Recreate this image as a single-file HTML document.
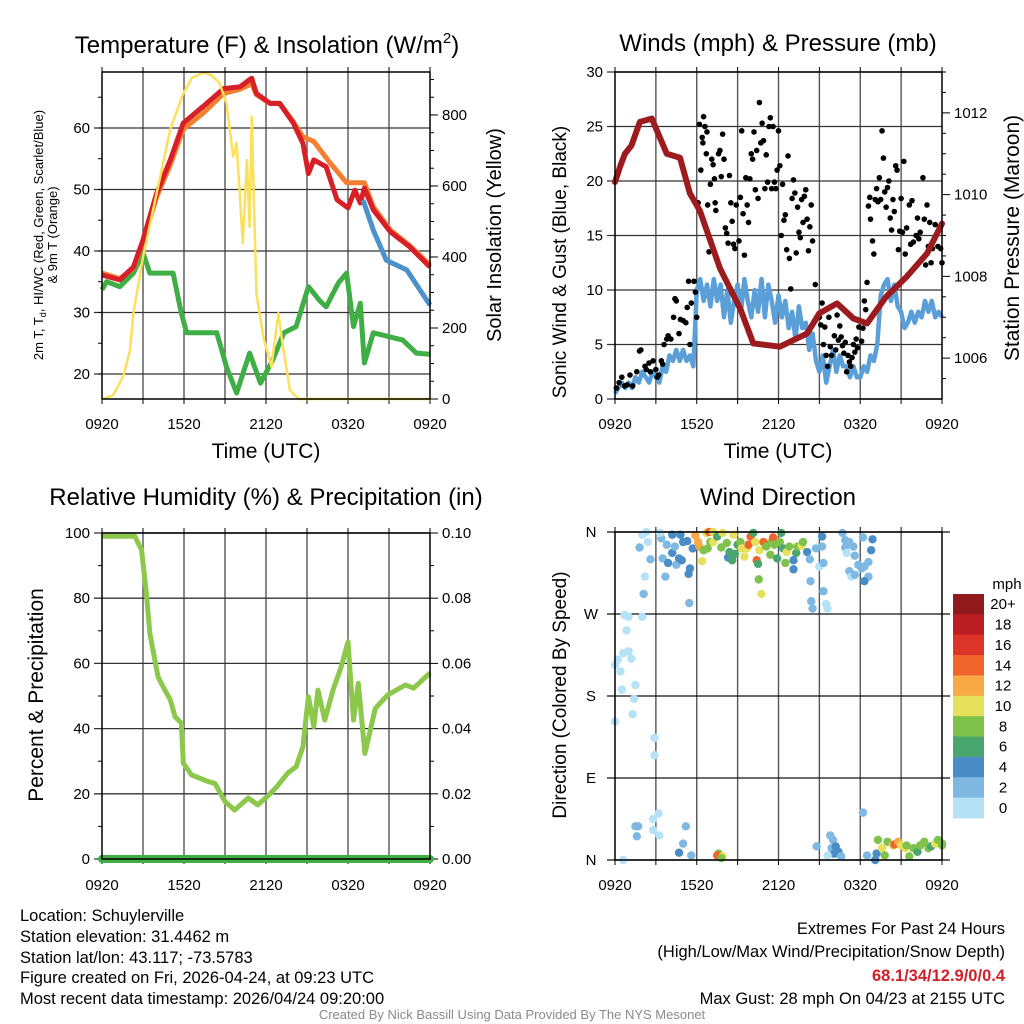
<!DOCTYPE html>
<html><head><meta charset="utf-8"><title>Schuylerville Meteogram</title>
<style>
html,body{margin:0;padding:0;background:#fff;}
svg{display:block;font-family:"Liberation Sans",Arial,sans-serif;}
</style></head>
<body>
<svg id="chart" width="1024" height="1024" viewBox="0 0 1024 1024" xmlns="http://www.w3.org/2000/svg">
<rect x="0" y="0" width="1024" height="1024" fill="#fff"/>
<text x="267" y="53" text-anchor="middle" font-size="24">Temperature (F) &amp; Insolation (W/m<tspan dy="-10" font-size="15">2</tspan><tspan dy="10">)</tspan></text>
<text x="778" y="51" text-anchor="middle" font-size="24">Winds (mph) &amp; Pressure (mb)</text>
<text x="266" y="505" text-anchor="middle" font-size="24">Relative Humidity (%) &amp; Precipitation (in)</text>
<text x="778" y="505" text-anchor="middle" font-size="24">Wind Direction</text>
<text transform="translate(43,235) rotate(-90)" text-anchor="middle" font-size="13">2m T, T<tspan dy="3" font-size="9">d</tspan><tspan dy="-3">, HI/WC (Red, Green, Scarlet/Blue)</tspan></text>
<text transform="translate(57,235) rotate(-90)" text-anchor="middle" font-size="13">&amp; 9m T (Orange)</text>
<text transform="translate(501,235) rotate(-90)" text-anchor="middle" font-size="20">Solar Insolation (Yellow)</text>
<text transform="translate(566,262) rotate(-90)" text-anchor="middle" font-size="19">Sonic Wind &amp; Gust (Blue, Black)</text>
<text transform="translate(1019,238) rotate(-90)" text-anchor="middle" font-size="21">Station Pressure (Maroon)</text>
<text transform="translate(43,695) rotate(-90)" text-anchor="middle" font-size="21">Percent &amp; Precipitation</text>
<text transform="translate(566,695) rotate(-90)" text-anchor="middle" font-size="19">Direction (Colored By Speed)</text>
<text x="266" y="458" text-anchor="middle" font-size="21">Time (UTC)</text>
<text x="778" y="458" text-anchor="middle" font-size="21">Time (UTC)</text>
<g font-size="16.5">
<text x="20" y="921">Location: Schuylerville</text>
<text x="20" y="942">Station elevation: 31.4462 m</text>
<text x="20" y="963">Station lat/lon: 43.117; -73.5783</text>
<text x="20" y="983">Figure created on Fri, 2026-04-24, at 09:23 UTC</text>
<text x="20" y="1004">Most recent data timestamp: 2026/04/24 09:20:00</text>
</g>
<g font-size="16.5" text-anchor="end">
<text x="1005" y="934">Extremes For Past 24 Hours</text>
<text x="1005" y="957">(High/Low/Max Wind/Precipitation/Snow Depth)</text>
<text x="1005" y="981" fill="#d0202a" font-weight="bold">68.1/34/12.9/0/0.4</text>
<text x="1005" y="1004">Max Gust: 28 mph On 04/23 at 2155 UTC</text>
</g>
<text x="512" y="1019" text-anchor="middle" font-size="13" fill="#8a8a8a">Created By Nick Bassill Using Data Provided By The NYS Mesonet</text>
</svg>
<script>
// ---------- data ----------
const xTickLabels = ["0920","1520","2120","0320","0920"];
const tempTicks = [20,30,40,50,60];
const solarTicks = [0,200,400,600,800];
const windTicks = [0,5,10,15,20,25,30];
const pressTicks = [1006,1008,1010,1012];
const rhTicks = [0,20,40,60,80,100];
const precipTickLabels = ["0.00","0.02","0.04","0.06","0.08","0.10"];
const dirTickLabels = ["N","E","S","W","N"];
const dirTickDeg = [0,90,180,270,360];
const speedBinLabels = ["0","2","4","6","8","10","12","14","16","18","20+"];
const speedBinColors = ["#b5e2f7","#7fb9e3","#4a8dc6","#49a66e","#7ec24b","#e6e05a","#f6a945","#ef642d","#dc3528","#bd1e24","#901a1c"];

const tempHours = [0,1.3,2.3,3.0,4.0,5.0,5.95,7.4,8.9,10.1,10.95,11.3,12.3,13.0,14.0,14.7,15.1,15.5,16.4,17.2,18.0,18.5,18.9,19.2,19.85,21.1,22.5,24];
const tempValues = [36.1,35.3,37.4,41.8,49.4,54.8,60.8,63.5,66.4,66.7,68.1,65.6,64.0,64.0,60.8,57.5,52.6,54.8,53.7,48.3,47.0,49.9,47.8,50.2,46.7,43.1,40.7,37.4];
const temp9Hours = [0,1.3,2.3,3.0,4.0,5.0,5.95,7.4,8.9,10.1,10.95,11.3,12.3,13.0,14.0,14.7,15.5,16.7,17.9,19.2,19.85,21.1,22.5,24];
const temp9Values = [36.4,35.5,37.2,41.5,48.8,54.0,59.8,62.4,65.6,66.3,67.2,65.4,64.0,64.0,61.0,58.6,57.8,54.3,51.1,51.1,47.2,43.4,40.9,37.7];
const chillHours = [19.1,19.85,20.8,22.3,24];
const chillValues = [48.3,43.4,38.5,36.9,31.2];
const dewHours = [0,0.34,1.3,2.3,3.0,3.5,5.2,5.8,6.2,8.4,9.1,9.85,10.8,11.6,12.5,13.3,14.2,15.1,15.9,16.4,17.3,17.9,18.4,18.9,19.2,19.85,22.0,23.0,24];
const dewValues = [33.7,35.0,34.2,36.4,39.7,36.4,36.4,29.9,26.7,26.7,21.2,16.9,23.4,18.5,22.3,26.7,27.7,34.2,32.0,30.9,34.8,36.4,27.7,31.5,21.8,26.7,25.5,23.4,23.2];
const solarHours = [0,0.8,1.3,1.6,2.05,2.3,3.0,4.0,5.0,5.95,6.6,7.4,8.0,8.6,9.1,9.6,9.85,10.3,10.6,10.8,10.95,11.3,11.8,12.4,12.9,13.2,13.75,14.4,24];
const solarValues = [0,10,45,70,138,242,400,580,760,861,905,919,912,890,834,683,721,439,673,485,795,298,175,91,242,158,25,0,0];

const pressHours = [0,0.37,0.73,1.2,1.83,2.7,3.8,4.77,5.5,6.24,7.7,9.2,10.15,12.1,13.1,14.1,15.0,16.3,17.5,18.5,19.9,21.4,22.9,24];
const pressValues = [1010.31,1010.68,1011.0,1011.2,1011.78,1011.86,1011.0,1010.9,1010.03,1009.6,1008.2,1007.2,1006.36,1006.28,1006.44,1006.6,1007.1,1007.34,1006.97,1006.85,1007.5,1007.99,1008.56,1009.29];
// sonic wind every 15 minutes
const windValues = [0.5,1,1.5,1, 1.5,1,2,1.5, 2.5,2,1.5,2.5, 2,1.5,3,2.5, 4,3.5,4.5,3.5, 4.5,3.5,4,3,
 10,11,9,10.5, 8.5,11,9,10.5, 7.5,10,7,9, 10.5,8,11,9, 7.5,10,8,11, 7.5,10.5,9,7, 9.5,7.5,9,6.5, 8,5.5,8.5,6.5,
 7,4.5,6,3.5, 2.5,4,1.5,3, 4.5,2.5,4,3, 3,2,3,2, 2,3,2.5,4, 3.5,5,9.5,10.5, 11,9,10.5,8.5, 8,6.5,7,8, 7,8,7.5,9, 8,9,7.5,8, 7.5];
const gustHours = [0.1,0.3,0.5,0.7,0.9,1.1,1.3,1.6,1.8,1.9,2.2,2.3,2.5,2.6,2.8,3.0,3.1,3.2,3.4,3.5,3.6,3.8,3.9,4.1,4.3,4.4,4.5,4.7,4.8,5.0,5.2,5.3,5.4,5.5,5.6,5.8,5.9,6.0,6.1,6.2,6.3,6.4,6.45,6.5,6.6,6.7,6.75,6.8,6.9,7.0,7.1,7.2,7.3,7.35,7.4,7.6,7.7,7.8,7.9,8.0,8.1,8.2,8.3,8.4,8.5,8.6,8.7,8.8,8.9,9.1,9.2,9.3,9.4,9.5,9.6,9.7,9.8,9.9,10.0,10.1,10.2,10.3,10.4,10.5,10.6,10.7,10.8,10.9,11.0,11.1,11.2,11.3,11.4,11.5,11.6,11.7,11.8,11.9,12.0,12.1,12.2,12.3,12.4,12.5,12.6,12.7,12.8,12.9,13.0,13.1,13.2,13.3,13.4,13.5,13.6,13.7,13.8,13.9,14.0,14.1,14.2,14.3,14.4,14.5,14.7,15.0,15.1,15.2,15.3,15.4,15.5,15.6,15.7,15.8,15.9,16.1,16.2,16.3,16.4,16.5,16.6,16.7,16.8,16.9,17.0,17.1,17.2,17.3,17.4,17.5,17.6,17.7,17.8,17.9,18.1,18.2,18.3,18.4,18.5,18.6,18.7,18.75,18.9,19.0,19.1,19.2,19.3,19.4,19.5,19.6,19.7,19.8,19.9,20.0,20.1,20.2,20.3,20.4,20.5,20.6,20.7,20.8,20.9,21.0,21.1,21.2,21.3,21.4,21.5,21.6,21.7,21.8,21.9,22.1,22.2,22.3,22.4,22.6,22.7,22.8,22.9,23.0,23.1,23.2,23.3,23.5,23.7,23.9,24];
const gustValues = [1,1.5,2,1.2,1.3,2.2,1.2,2.5,4.4,4.5,3,2.7,3.3,2.5,3.5,2.7,2,2.2,3.5,3.2,5,5.5,5.8,5.5,7.5,9.2,9,6,7.3,7.2,7,8.4,10.8,5,8.8,10.8,9.8,7.5,18,25.2,21,24,23.5,25.9,25,22.5,24.5,17.8,13.5,19.7,22,21.5,20.2,18,17.3,22.5,22.8,20.4,24.3,22,15.7,15.2,14.3,20.5,18,16.3,14.2,13.8,17.8,14.5,18.5,24.6,17,13.2,20.3,17.8,16.2,20.2,22.5,22,24.5,19.2,22.8,18.4,27.2,23.5,25.3,23.7,19.3,22.4,19.9,25,25.8,19.3,25,19.9,19.3,21,24.6,21.4,15,19.7,16.4,16.9,13.7,22.3,12.9,10.1,18.4,20.1,18.9,13.4,17.6,15.3,14.8,18.3,16.2,18.6,19.2,16.5,13.6,15.8,17.8,14.5,10.5,7.5,6.8,8.8,5,6.6,4,3,7.5,4.8,4,5.8,4.5,7.7,5.4,6.7,5.7,4.9,4.2,5.2,2.5,4,3.4,3,3.8,5,4.3,5.5,4.7,6.6,5.3,6.5,9,8.2,10.7,17.7,18.5,16.5,14.5,13.3,18.3,19.3,18.1,20.3,18.3,24.6,22.1,19,17.6,19.4,20,16.6,15.5,18.3,17.2,21.4,21,13.7,15.4,18.4,15.3,21.8,13.3,15.7,11.4,17.8,14.2,18.2,14.4,15,16.6,14.7,15.3,20.3,16.5,12.3,17.8,14,16.2,12.5,13.8,16,14,13.8,12.5];

const rhHours = [0,2.4,2.9,3.27,3.5,4.1,4.6,5.0,5.35,5.8,5.95,6.55,7.8,8.27,9.0,9.7,10.7,11.4,12.2,12.8,13.6,14.2,14.7,15.1,15.5,15.8,16.3,16.9,17.5,18.0,18.4,18.75,19.24,20.0,20.9,22.2,22.8,24];
const rhValues = [99,99,94.8,80.5,69.3,55.9,51.8,48.8,43.6,41.7,29.4,25.8,23.7,23.2,17.6,15.0,18.7,16.6,19.6,22.2,26.4,28.3,34.4,49.8,40.6,51.8,42.6,51.8,59.0,66.6,42.6,53.9,32.4,46.2,50.3,53.4,52.4,57.1];
const precipHours = [0,24];
const precipValues = [0,0];

const dirHours = [0.6,0,0,0.4,0.5,0.2,0.7,1,0.85,0.6,1,1.2,1.5,1.4,1.3,2,2.1,2.2,2.6,1.8,2,2.3,2.4,2.9,2.9,1.5,1.7,1.6,2.8,2.8,3.2,3.25,3.4,3.3,3.8,3.5,3.7,3.9,4.2,4.2,4.4,4.5,4.7,4.8,5,5.3,4.9,5.4,5.5,5.45,4.7,5,5.2,5.6,5.7,5.9,6.1,6.2,6.4,6.7,6.9,7.2,7,7.2,6.5,6.8,7.5,7.8,7.9,8.2,8.3,8.4,8.7,8.6,8.8,9.0,9.2,9.3,9.5,9.7,9.8,9.95,10.15,10.3,10.4,10.5,10.55,10.75,10.6,10.9,11.1,11.4,11.5,11.6,11.7,11.9,12.1,12.2,12.35,12.5,12.6,12.8,13.1,13.1,13.3,13.4,13.7,13.8,14.1,14.3,14.35,14.4,14.5,14.75,15,15.2,15.2,15.3,15.3,15.5,15.6,14.8,15.8,16,15.9,16.1,16.4,16.6,15.6,16.2,16.7,16.9,16.9,17.2,17.5,17,17.6,17.85,17.2,17.35,17.6,18.1,18.2,18.3,18.6,18.6,18.3,18.8,18.9,18.2,18.5,19.1,19.2,19.3,19.6,19.8,20.0,20.4,20.5,20.8,21,21.3,21.4,21.6,21.9,22.2,22.4,22.7,23,23.2,23.5,23.7,24,24,7.6,7.5,7.9,7.8];
const dirDegrees = [0,152,214,207,187,220,269,267,252,227,229,221,192,177,160,267,292,311,330,343,357,360,349,134,115,37,37,26,45,33,51,27,353,359,346,331,311,326,337,357,344,324,331,357,349,350,329,314,320,282,8,18,37,5,342,356,349,344,328,359,360,360,349,349,340,342,355,343,359,348,332,338,357,329,336,346,349,342,333,342,346,355,359,349,329,325,308,292,340,349,344,335,349,354,346,331,349,359,342,326,338,344,329,319,337,344,345,349,338,330,306,284,276,342,322,355,344,326,295,281,276,15,27,22,13,7,9,4,5,15,359,351,343,349,344,337,334,324,317,311,313,320,354,322,327,311,306,340,352,52,5,0,7,22,13,5,20,16,17,20,16,13,16,4,13,9,16,20,13,15,18,22,16,18,7,5,4,2];
const dirSpeeds = [1,1,1,0.5,0.5,1,0.5,0.5,1,1,0.5,1,1,0.5,0.5,1,3,0.5,2,2,1,0.5,1,1,0.5,2,3,2,0.5,0.5,0.5,0.5,2,0.5,2,2,2,4,4,4,2,2,4,4,4,4,4,4,4,3,4,2,2,2,4,12,13,12,10,10,14,10,9,10,8,8,6,8,10,8,4,6,10,6,6,6,8,10,10,10,14,14,6,10,14,6,8,10,10,14,8,8,8,14,8,6,8,6,6,8,10,8,4,4,6,8,10,8,4,2,2,2,2,2,0.5,4,2,2,2,0.5,0.5,2,2,2,3,4,4,2,0.5,4,2,2,2,2,2,0.5,2,2,2,0.5,2,2,2,2,2,2,4,4,4,2,2,4,4,8,10,8,8,10,14,12,10,10,8,8,8,6,8,8,8,6,10,8,8,8,8,14,10,8];

// ---------- helpers ----------
const NS = 'http://www.w3.org/2000/svg';
const svg = document.getElementById('chart');
function mk(tag, attrs, parent) {
  const e = document.createElementNS(NS, tag);
  for (const k in attrs) e.setAttribute(k, attrs[k]);
  (parent || svg).appendChild(e);
  return e;
}
function lin(d0, d1, r0, r1) { return v => r0 + (v - d0) / (d1 - d0) * (r1 - r0); }

const P1 = {x0:102, x1:430, y0:72, y1:399};
const P2 = {x0:615, x1:942, y0:72, y1:399};
const P3 = {x0:102, x1:430, y0:533, y1:859};
const P4 = {x0:615, x1:942, y0:532, y1:860};
function xScale(p) { return lin(0, 24, p.x0, p.x1); }

const x1s = xScale(P1), x2s = xScale(P2), x3s = xScale(P3), x4s = xScale(P4);
const yTemp = lin(15.93, 69.1, P1.y1, P1.y0);
const ySolar = lin(0, 921, P1.y1, P1.y0);
const yWind = lin(0, 30, P2.y1, P2.y0);
const yPress = lin(1005, 1013, P2.y1, P2.y0);
const yRH = lin(0, 100, P3.y1, P3.y0);
const yDir = lin(0, 360, P4.y1, P4.y0);

function line(g, x1, y1, x2, y2, stroke, w) {
  return mk('line', {x1:x1, y1:y1, x2:x2, y2:y2, stroke:stroke, 'stroke-width':w}, g);
}
function label(g, str, x, y, anchor, size) {
  const t = mk('text', {x:x, y:y, 'text-anchor':anchor, 'font-size':size}, g);
  t.textContent = str;
  return t;
}
function pathD(xs, ys, fx, fy) {
  let d = '';
  for (let i = 0; i < xs.length; i++) d += (i ? 'L' : 'M') + fx(xs[i]).toFixed(1) + ',' + fy(ys[i]).toFixed(1);
  return d;
}

function frame(p, fx, name, labelY) {
  const g = mk('g', {});
  
  
  for (let h = 3; h < 24; h += 3) {
    const l = line(g, fx(h), p.y0, fx(h), p.y1, '#555', 1.4);
    
    
  }
  for (let h = 0; h <= 24; h += 3) {
    const t1 = line(g, fx(h), p.y1, fx(h), p.y1 + 5, '#000', 1);
    
    
    const t2 = line(g, fx(h), p.y0, fx(h), p.y0 - 5, '#000', 1);
    
    
  }
  xTickLabels.forEach((s, i) => {
    const t = label(g, s, fx(i * 6), labelY, 'middle', 15);
    
    
  });
  return g;
}
function border(p, name) {
  const r = mk('rect', {x:p.x0, y:p.y0, width:p.x1 - p.x0, height:p.y1 - p.y0, fill:'none', stroke:'#000', 'stroke-width':1.5});
  
  
}

// ---------- Panel 1 ----------
const g1 = frame(P1, x1s, 'temperature', 429);
tempTicks.forEach(v => {
  const l = line(g1, P1.x0 - 8, yTemp(v), P1.x1, yTemp(v), '#333', 1.3);
  
  
  const t = label(g1, String(v), P1.x0 - 12, yTemp(v) + 5, 'end', 15);
  
  
});
for (let v = 20; v <= 65; v += 5) {
  const l = line(g1, P1.x0 - 4, yTemp(v), P1.x0, yTemp(v), '#000', 1);
  
  
}
solarTicks.forEach(v => {
  const l = line(g1, P1.x1, ySolar(v), P1.x1 + 8, ySolar(v), '#000', 1);
  
  
  const t = label(g1, String(v), P1.x1 + 12, ySolar(v) + 5, 'start', 15);
  
  
});
for (let v = 0; v <= 900; v += 50) {
  const l = line(g1, P1.x1, ySolar(v), P1.x1 + 4, ySolar(v), '#000', 1);
  
  
}
const sDew = mk('path', {d:pathD(dewHours, dewValues, x1s, yTemp), fill:'none', stroke:'#3fae44', 'stroke-width':5, 'stroke-linejoin':'round'});


const sT9 = mk('path', {d:pathD(temp9Hours, temp9Values, x1s, yTemp), fill:'none', stroke:'#f47f30', 'stroke-width':5, 'stroke-linejoin':'round'});


const sT = mk('path', {d:pathD(tempHours, tempValues, x1s, yTemp), fill:'none', stroke:'#d61f26', 'stroke-width':5, 'stroke-linejoin':'round'});


const sWC = mk('path', {d:pathD(chillHours, chillValues, x1s, yTemp), fill:'none', stroke:'#4b91cc', 'stroke-width':5, 'stroke-linejoin':'round'});


const sSol = mk('path', {d:pathD(solarHours, solarValues, x1s, ySolar), fill:'none', stroke:'#fbe05a', 'stroke-width':2.5, 'stroke-linejoin':'round'});


border(P1, 'temperature');

// ---------- Panel 2 ----------
const g2 = frame(P2, x2s, 'winds', 429);
windTicks.forEach(v => {
  const l = line(g2, P2.x0 - 8, yWind(v), P2.x1, yWind(v), '#333', 1.3);
  
  
  const t = label(g2, String(v), P2.x0 - 12, yWind(v) + 5, 'end', 15);
  
  
});
for (let v = 1005.5; v <= 1013; v += 0.5) {
  const major = pressTicks.indexOf(v) >= 0;
  const l = line(g2, P2.x1, yPress(v), P2.x1 + (major ? 8 : 4), yPress(v), '#000', 1);
  
  
}
pressTicks.forEach(v => {
  const t = label(g2, String(v), P2.x1 + 12, yPress(v) + 5, 'start', 15);
  
  
});
const windHours = windValues.map((v, i) => i * 0.25);
const sWind = mk('path', {d:pathD(windHours, windValues, x2s, yWind), fill:'none', stroke:'#5a9fd8', 'stroke-width':4.5, 'stroke-linejoin':'round'});


const gGust = mk('g', {});


gustHours.forEach((h, i) => {
  const c = mk('circle', {cx:x2s(h), cy:yWind(gustValues[i]), r:2.8, fill:'#000'}, gGust);
  
  
});
const sPress = mk('path', {d:pathD(pressHours, pressValues, x2s, yPress), fill:'none', stroke:'#9b1b1e', 'stroke-width':6, 'stroke-linejoin':'round', 'stroke-linecap':'round'});


border(P2, 'winds');

// ---------- Panel 3 ----------
const g3 = frame(P3, x3s, 'humidity', 890);
rhTicks.forEach((v, i) => {
  const l = line(g3, P3.x0 - 8, yRH(v), P3.x1, yRH(v), '#333', 1.3);
  
  
  const t = label(g3, String(v), P3.x0 - 12, yRH(v) + 5, 'end', 15);
  
  
  const r = line(g3, P3.x1, yRH(v), P3.x1 + 8, yRH(v), '#000', 1);
  
  
  const t2 = label(g3, precipTickLabels[i], P3.x1 + 12, yRH(v) + 5, 'start', 15);
  
  
});
for (let v = 10; v < 100; v += 20) {
  const l = line(g3, P3.x0 - 4, yRH(v), P3.x0, yRH(v), '#000', 1);
  
  
  const r = line(g3, P3.x1, yRH(v), P3.x1 + 4, yRH(v), '#000', 1);
  
  
}
const sRH = mk('path', {d:pathD(rhHours, rhValues, x3s, yRH), fill:'none', stroke:'#8cc84b', 'stroke-width':5, 'stroke-linejoin':'round'});


const sPr = mk('path', {d:pathD(precipHours, precipValues, x3s, yRH), fill:'none', stroke:'#3fae44', 'stroke-width':8, 'stroke-linecap':'round'});


border(P3, 'humidity');

// ---------- Panel 4 ----------
const g4 = frame(P4, x4s, 'direction', 890);
dirTickDeg.forEach((d, i) => {
  const l = line(g4, P4.x0 - 8, yDir(d), P4.x1 + 8, yDir(d), '#111', 1.3);
  
  
  const t = label(g4, dirTickLabels[i], P4.x0 - 24, yDir(d) + 5, 'middle', 15);
  
  
});
const gDir = mk('g', {});


dirHours.forEach((h, i) => {
  const bin = Math.min(10, Math.floor(dirSpeeds[i] / 2));
  const c = mk('circle', {cx:x4s(h), cy:yDir(dirDegrees[i]), r:4.2, fill:speedBinColors[bin]}, gDir);
  
  
});
border(P4, 'direction');

// colorbar
const gCb = mk('g', {});


const cbTop = 594, cbBot = 818, cbH = (cbBot - cbTop) / speedBinColors.length;
speedBinColors.forEach((col, i) => {
  const idx = speedBinColors.length - 1 - i;
  const r = mk('rect', {x:953, y:cbTop + i * cbH, width:31, height:cbH + 0.5, fill:speedBinColors[idx]}, gCb);
  
  
  const t = label(gCb, speedBinLabels[idx], 1003, cbTop + i * cbH + cbH / 2 + 5, 'middle', 15);
  
  
});
const mph = label(gCb, 'mph', 1007, 589, 'middle', 15);


</script>
</body></html>
